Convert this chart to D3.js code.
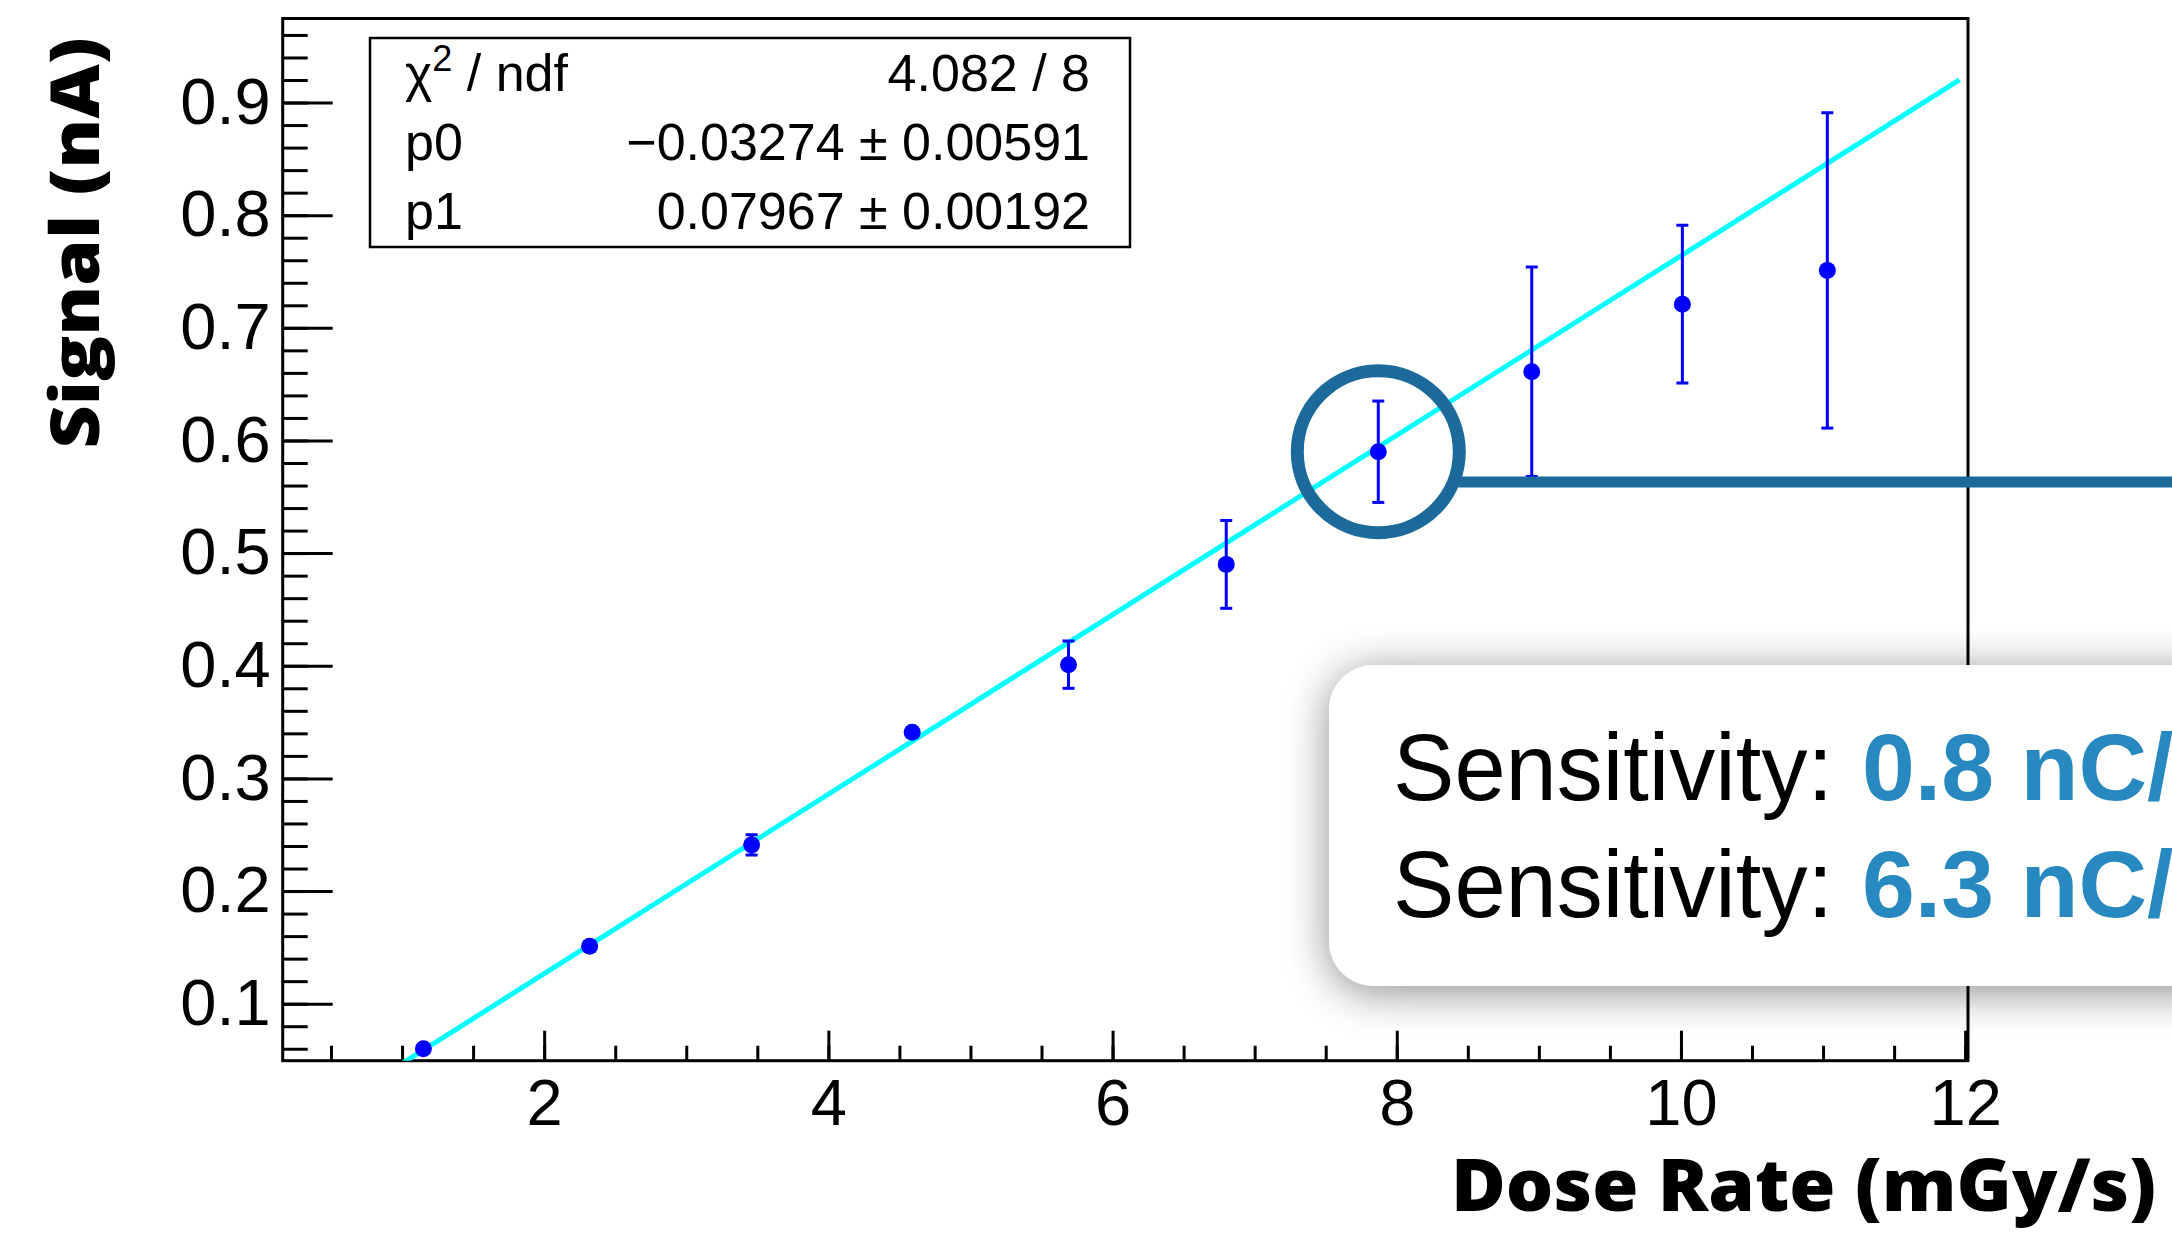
<!DOCTYPE html>
<html>
<head>
<meta charset="utf-8">
<script src="https://cdn.jsdelivr.net/npm/d3@7"></script>
<style>
  html, body { margin: 0; padding: 0; background: #fff; overflow: hidden; }
  svg { display: block; }
</style>
</head>
<body>
<div id="chart"></div>
<script>
// measured points (dose rate in mGy/s, signal in nA)
const doseRate  = [1.15, 2.32, 3.46, 4.59, 5.69, 6.80, 7.87, 8.95, 10.01, 11.03];
const signal    = [0.060, 0.151, 0.241, 0.341, 0.401, 0.490, 0.590, 0.661, 0.721, 0.751];
const signalErr = [0.003, 0.004, 0.009, 0.004, 0.021, 0.039, 0.045, 0.093, 0.070, 0.140];

const xTickValues = [2, 4, 6, 8, 10, 12];
const yTickValues = [0.1, 0.2, 0.3, 0.4, 0.5, 0.6, 0.7, 0.8, 0.9];

// pol1 fit result
const fitPars  = [-0.03274, 0.07967];
const fitRange = [0.16, 11.96];
const statLabels = ["χ2 / ndf", "p0", "p1"];
const statValues = ["4.082 / 8", "\u22120.03274 \u00b1 0.00591", "0.07967 \u00b1 0.00192"];

const sensLabels = ["Sensitivity:", "Sensitivity:"];
const sensValues = ["0.8 nC/cGy", "6.3 nC/cGy/cm\u00b3"];
const highlightIndex = 6;

const W = 2172, H = 1233;
const frame = {left: 282.7, right: 1968, top: 18.5, bottom: 1060.7};

const svg = d3.select('#chart').append('svg')
  .attr('width', W)
  .attr('height', H);

const x = d3.scaleLinear().domain([0.16, 12.02]).range([frame.left, frame.right]);
const y = d3.scaleLinear().domain([0.0494, 0.9746]).range([frame.bottom, frame.top]);

const defs = svg.append('defs');
defs.append('clipPath').attr('id', 'plotclip')
  .append('rect')
  .attr('x', frame.left).attr('y', frame.top)
  .attr('width', frame.right - frame.left)
  .attr('height', frame.bottom - frame.top);

const shadow = defs.append('filter').attr('id', 'shadow')
  .attr('x', '-20%').attr('y', '-40%').attr('width', '140%').attr('height', '180%');
shadow.append('feDropShadow')
  .attr('dx', 0).attr('dy', 6)
  .attr('stdDeviation', 22)
  .attr('flood-color', '#000')
  .attr('flood-opacity', 0.45);

// axes, ROOT style ticks pointing inward
const tickFont = "'Liberation Sans', Arial, Helvetica, sans-serif";

function styleAxis(g) {
  g.select('.domain').remove();
  g.selectAll('.tick line').attr('stroke', '#000').attr('stroke-width', 3);
  g.selectAll('.tick text')
    .attr('fill', '#000')
    .style('font-family', tickFont)
    .style('font-size', '65px');
}

svg.append('g')
  .attr('transform', `translate(0,${frame.bottom})`)
  .call(d3.axisBottom(x).tickValues(d3.range(0.5, 12.01, 0.5)).tickSize(-15).tickFormat(''))
  .call(styleAxis);
svg.append('g')
  .attr('transform', `translate(0,${frame.bottom})`)
  .call(d3.axisBottom(x).tickValues(xTickValues).tickSize(-30).tickPadding(18).tickFormat(d3.format('d')))
  .call(styleAxis);

svg.append('g')
  .attr('transform', `translate(${frame.left},0)`)
  .call(d3.axisLeft(y).tickValues(d3.range(0.06, 0.97, 0.02)).tickSize(-25).tickFormat(''))
  .call(styleAxis);
svg.append('g')
  .attr('transform', `translate(${frame.left},0)`)
  .call(d3.axisLeft(y).tickValues(yTickValues).tickSize(-50).tickPadding(12).tickFormat(d3.format('.1f')))
  .call(styleAxis);

// frame
svg.append('rect')
  .attr('x', frame.left).attr('y', frame.top)
  .attr('width', frame.right - frame.left)
  .attr('height', frame.bottom - frame.top)
  .attr('fill', 'none')
  .attr('stroke', '#000')
  .attr('stroke-width', 3);

const plot = svg.append('g').attr('clip-path', 'url(#plotclip)');

// fit function
plot.append('path')
  .datum(fitRange.map(v => [v, fitPars[0] + fitPars[1] * v]))
  .attr('d', d3.line().x(d => x(d[0])).y(d => y(d[1])))
  .attr('fill', 'none')
  .attr('stroke', '#00ffff')
  .attr('stroke-width', 5);

// error bars + markers
const pts = doseRate.map((d, i) => ({x: d, y: signal[i], e: signalErr[i]}));
const eb = plot.selectAll('g.err').data(pts).enter().append('g').attr('class', 'err')
  .attr('stroke', '#0000ff').attr('stroke-width', 3);
eb.append('line')
  .attr('x1', d => x(d.x)).attr('x2', d => x(d.x))
  .attr('y1', d => y(d.y - d.e)).attr('y2', d => y(d.y + d.e));
eb.append('line')
  .attr('x1', d => x(d.x) - 6).attr('x2', d => x(d.x) + 6)
  .attr('y1', d => y(d.y + d.e)).attr('y2', d => y(d.y + d.e));
eb.append('line')
  .attr('x1', d => x(d.x) - 6).attr('x2', d => x(d.x) + 6)
  .attr('y1', d => y(d.y - d.e)).attr('y2', d => y(d.y - d.e));

plot.selectAll('circle.pt').data(pts).enter().append('circle')
  .attr('class', 'pt')
  .attr('cx', d => x(d.x))
  .attr('cy', d => y(d.y))
  .attr('r', 8.5)
  .attr('fill', '#0000ff');

// stats box
const stats = svg.append('g');
stats.append('rect')
  .attr('x', 370).attr('y', 38)
  .attr('width', 760).attr('height', 209)
  .attr('fill', '#fff')
  .attr('stroke', '#000')
  .attr('stroke-width', 2.5);
const rowY = [91, 160, 229];
statLabels.forEach((lab, i) => {
  const t = stats.append('text')
    .attr('x', 405).attr('y', rowY[i])
    .style('font-family', tickFont).style('font-size', '52px');
  if (i === 0) {
    t.append('tspan').text('χ');
    t.append('tspan').attr('dy', -20).style('font-size', '36px').text('2');
    t.append('tspan').attr('dy', 20).text(' / ndf');
  } else {
    t.text(lab);
  }
  stats.append('text')
    .attr('x', 1090).attr('y', rowY[i])
    .attr('text-anchor', 'end')
    .style('font-family', tickFont).style('font-size', '52px')
    .text(statValues[i]);
});

// axis titles
const titleFont = "'Open Sans', Lato, sans-serif";
svg.append('text')
  .attr('transform', 'translate(99,243) rotate(-90)')
  .attr('text-anchor', 'middle')
  .attr('textLength', 411)
  .attr('lengthAdjust', 'spacingAndGlyphs')
  .style('font-family', titleFont).style('font-weight', 800).style('font-size', '68px')
  .text('Signal (nA)');
svg.append('text')
  .attr('x', 2156).attr('y', 1211)
  .attr('text-anchor', 'end')
  .attr('textLength', 705)
  .attr('lengthAdjust', 'spacingAndGlyphs')
  .style('font-family', titleFont).style('font-weight', 800).style('font-size', '72px')
  .text('Dose Rate (mGy/s)');

// highlight annotation around one point
const hx = x(doseRate[highlightIndex]), hy = y(signal[highlightIndex]);
const annColor = '#1b6a9b';
svg.append('line')
  .attr('x1', hx + 80).attr('x2', W)
  .attr('y1', 482).attr('y2', 482)
  .attr('stroke', annColor).attr('stroke-width', 11);
svg.append('circle')
  .attr('cx', hx).attr('cy', hy).attr('r', 81)
  .attr('fill', 'none')
  .attr('stroke', annColor).attr('stroke-width', 13);

// sensitivity callout
svg.append('rect')
  .attr('x', 1329).attr('y', 665)
  .attr('width', 1000).attr('height', 321)
  .attr('rx', 45).attr('ry', 45)
  .attr('fill', '#fff')
  .attr('filter', 'url(#shadow)');

const sensY = [800, 917];
sensLabels.forEach((lab, i) => {
  svg.append('text')
    .attr('x', 1393).attr('y', sensY[i])
    .attr('textLength', 440)
    .attr('lengthAdjust', 'spacingAndGlyphs')
    .attr('fill', '#000')
    .style('font-family', tickFont).style('font-size', '95px')
    .text(lab);
  svg.append('text')
    .attr('x', 1862).attr('y', sensY[i])
    .attr('fill', '#2889c0')
    .style('font-family', tickFont).style('font-size', '95px').style('font-weight', 700)
    .text(sensValues[i]);
});
</script>
</body>
</html>
